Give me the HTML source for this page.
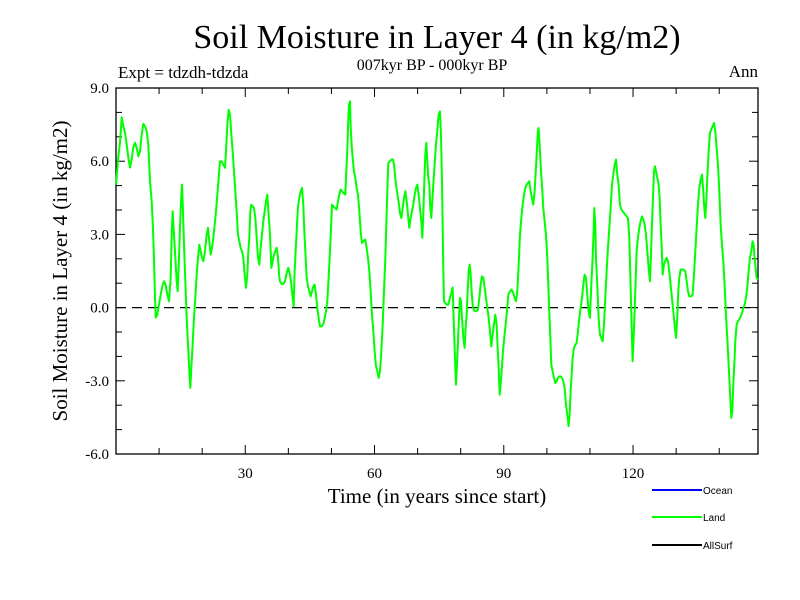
<!DOCTYPE html>
<html><head><meta charset="utf-8">
<style>
html,body{margin:0;padding:0;background:#fff;}
svg{display:block;font-family:"Liberation Serif",serif;}
</style></head>
<body>
<svg id="chart" width="800" height="600" viewBox="0 0 800 600">
<rect width="800" height="600" fill="#fff"/>
<text x="437" y="48" font-size="34" text-anchor="middle">Soil Moisture in Layer 4 (in kg/m2)</text>
<text x="118" y="78" font-size="17">Expt = tdzdh-tdzda</text>
<text x="432" y="70" font-size="16" text-anchor="middle">007kyr BP - 000kyr BP</text>
<text x="758" y="77" font-size="17" text-anchor="end">Ann</text>
<text x="437" y="503" font-size="21" text-anchor="middle">Time (in years since start)</text>
<text transform="translate(67,271) rotate(-90)" font-size="21" text-anchor="middle">Soil Moisture in Layer 4 (in kg/m2)</text>
<g id="axes"></g>
<g id="series"></g>
<g font-family="Liberation Sans, sans-serif" font-size="10">
<line x1="652" y1="490" x2="702" y2="490" stroke="#0000ff" stroke-width="2"/>
<text x="703" y="494">Ocean</text>
<line x1="652" y1="517" x2="702" y2="517" stroke="#00ff00" stroke-width="2"/>
<text x="703" y="521">Land</text>
<line x1="652" y1="545" x2="702" y2="545" stroke="#000" stroke-width="2"/>
<text x="703" y="549">AllSurf</text>
</g>
</svg>
<script>
const years = [0,0.54,0.93,1.32,1.70,2.09,2.48,2.86,3.25,3.64,4.02,4.41,4.80,5.18,5.57,5.96,6.34,6.73,7.12,7.50,7.89,8.28,8.51,8.74,8.97,9.21,9.59,9.98,10.37,10.75,11.14,11.53,11.91,12.30,12.69,12.92,13.15,13.31,13.69,14.08,14.31,14.62,14.85,15.09,15.32,15.55,15.78,16.09,16.40,16.79,17.02,17.25,17.48,17.79,18.10,18.41,18.72,19.03,19.34,19.65,19.96,20.27,20.65,21.04,21.35,21.66,21.97,22.28,22.59,22.90,23.21,23.52,23.83,24.14,24.52,24.91,25.30,25.53,25.84,26.15,26.46,26.77,27.08,27.38,27.69,28.00,28.31,28.62,28.93,29.24,29.55,29.86,30.17,30.48,30.71,30.94,31.17,31.41,31.72,32.03,32.34,32.65,32.95,33.26,33.57,33.88,34.19,34.50,34.81,35.12,35.43,35.74,36.05,36.36,36.67,36.98,37.29,37.60,37.91,
38.06,38.45,38.83,39.22,39.61,39.99,40.38,40.69,41.00,41.23,41.46,41.77,42.01,42.24,42.55,42.86,43.17,43.47,43.71,43.94,44.25,44.56,44.87,45.18,45.49,45.80,46.11,46.41,46.72,47.03,47.34,47.73,48.12,48.43,48.74,49.04,49.35,49.66,49.90,50.13,50.44,50.82,51.21,51.52,51.83,52.14,52.45,52.76,53.22,53.45,53.69,53.84,54.07,54.31,54.46,54.69,54.92,55.23,55.54,55.85,56.16,56.47,56.78,57.09,57.40,57.86,58.17,58.48,58.79,59.10,59.41,59.72,60.03,60.34,60.65,60.96,61.27,61.58,61.89,62.20,62.51,62.74,62.97,63.20,63.59,63.97,64.28,64.52,64.75,64.98,65.21,65.44,65.68,65.91,66.22,66.53,66.84,67.15,67.46,67.77,68.07,68.38,68.69,69.00,69.31,69.62,69.93,70.24,70.55,70.86,71.09,71.32,71.56,71.79,72.02,72.25,72.48,72.72,72.95,73.18,73.41,73.64,73.95,74.26,74.57,74.88,75.19,
75.42,75.66,75.81,75.96,76.12,76.43,76.74,77.13,77.51,77.82,78.13,78.44,78.67,78.90,79.14,79.37,79.60,79.83,80.07,80.30,80.61,80.92,81.15,81.38,81.61,81.85,82.08,82.31,82.54,82.77,83.08,83.55,84.01,84.32,84.63,84.94,85.25,85.56,85.87,86.18,86.49,86.80,87.10,87.41,87.72,88.03,88.34,88.57,88.81,89.04,89.27,89.50,89.81,90.12,90.43,90.74,91.05,91.44,91.82,92.21,92.52,92.83,93.14,93.45,93.76,94.07,94.38,94.69,95.00,95.30,95.61,95.92,96.23,96.54,96.85,97.16,97.47,97.70,97.93,98.09,98.32,98.55,98.86,99.17,99.48,99.79,100.10,100.33,100.56,100.80,101.03,101.34,101.65,101.96,102.27,102.58,102.89,103.19,103.50,103.81,104.12,104.43,104.74,105.05,105.28,105.52,105.75,105.98,106.29,106.60,106.91,107.22,107.53,107.84,108.15,108.46,108.77,109.07,109.38,109.69,110.00,110.31,110.62,110.85,111.01,111.24,111.39,111.70,112.01,112.32,
112.63,112.94,113.25,113.56,113.87,114.18,114.49,114.80,115.11,115.42,115.73,116.04,116.35,116.65,116.96,117.27,117.58,117.89,118.20,118.51,118.82,119.13,119.36,119.59,119.75,119.90,120.14,120.37,120.60,120.83,121.14,121.45,121.76,122.07,122.38,122.69,123.00,123.31,123.62,123.93,124.16,124.39,124.62,124.86,125.09,125.32,125.63,125.94,126.17,126.40,126.63,126.87,127.17,127.48,127.79,128.10,128.41,128.72,129.03,129.34,129.65,129.96,130.27,130.50,130.73,131.04,131.66,132.13,132.44,132.75,133.05,133.52,133.83,134.14,134.45,134.76,135.07,135.38,135.69,136.00,136.30,136.54,136.77,137.00,137.23,137.54,137.85,138.16,138.47,138.78,139.09,139.40,139.71,140.02,140.33,140.64,140.95,141.25,141.56,141.87,142.11,142.34,142.57,142.80,143.03,143.27,143.50,143.73,144.04,144.35,144.66,144.97,145.28,145.59,145.90,146.20,146.51,146.82,147.13,147.44,147.75,147.98,148.21,148.44,148.68,149.0];
const landValues = [5.04,6.2,6.76,7.8,7.43,7.17,6.68,6.15,5.74,6.07,6.56,6.76,6.56,6.2,6.4,7.09,7.53,7.43,7.23,6.68,5.18,4.36,3.54,2.45,0.94,-0.41,-0.29,0.12,0.53,0.87,1.08,0.94,0.53,0.26,1.22,2.99,3.95,3.4,2.31,1.08,0.67,2.05,3.28,4.36,5.04,3.95,2.58,1.08,-0.41,-1.79,-2.61,-3.29,-2.47,-1.52,-0.41,0.4,1.35,2.04,2.58,2.31,2.04,1.9,2.31,2.99,3.27,2.72,2.17,2.45,2.86,3.4,3.95,4.63,5.32,6.0,6.0,5.86,5.73,6.4,7.5,8.11,7.91,7.09,6.4,5.59,4.77,3.95,2.99,2.72,2.45,2.31,2.04,1.35,0.81,1.35,2.31,2.86,3.95,4.22,4.15,4.08,3.67,2.86,2.04,1.76,2.45,2.99,3.54,3.95,4.36,4.63,3.81,2.99,1.63,1.9,2.17,2.31,2.45,2.04,1.22,
1.08,0.97,0.97,1.08,1.42,1.63,1.35,0.94,0.4,0.05,1.49,2.58,3.4,4.15,4.49,4.77,4.9,4.22,3.13,2.31,1.22,0.87,0.67,0.46,0.67,0.87,0.94,0.53,-0.01,-0.42,-0.77,-0.77,-0.67,-0.42,-0.15,0.26,1.22,2.31,3.27,4.22,4.15,4.08,4.02,4.36,4.63,4.84,4.77,4.7,4.63,5.59,6.48,7.36,8.32,8.45,7.43,6.68,6.14,5.59,5.32,4.9,4.63,3.95,3.13,2.65,2.72,2.79,2.45,2.04,1.49,0.67,-0.29,-0.97,-1.79,-2.4,-2.61,-2.88,-2.61,-1.79,-0.7,0.67,2.04,3.4,4.77,5.93,6.0,6.07,6.07,5.86,5.45,5.04,4.77,4.49,4.22,3.88,3.67,4.08,4.49,4.77,4.36,3.81,3.27,3.67,3.95,4.22,4.63,4.9,5.04,4.63,4.08,3.54,2.86,3.81,5.18,6.27,6.75,6.0,5.32,5.04,4.08,3.67,4.36,5.04,5.86,6.68,7.23,7.91,8.04,
7.09,5.18,3.4,1.63,0.26,0.19,0.12,0.12,0.4,0.6,0.83,-0.83,-2.06,-3.16,-2.34,-1.38,-0.42,0.4,0.26,-0.42,-1.24,-1.65,-0.83,-0.29,0.67,1.49,1.76,1.35,0.67,0.12,-0.12,-0.15,-0.08,0.4,0.94,1.28,1.22,0.81,0.4,-0.01,-0.42,-0.97,-1.59,-1.11,-0.7,-0.29,-0.7,-1.65,-2.47,-3.57,-3.16,-2.61,-1.79,-1.24,-0.7,-0.15,0.53,0.67,0.74,0.6,0.4,0.26,0.67,1.76,2.99,3.67,4.22,4.63,4.9,5.04,5.11,5.18,4.77,4.49,4.22,4.77,5.73,6.54,7.23,7.36,6.68,5.86,5.04,4.08,3.54,2.99,2.04,0.94,-0.15,-1.24,-2.34,-2.61,-2.88,-3.09,-3.02,-2.88,-2.82,-2.82,-2.88,-3.02,-3.29,-3.98,-4.39,-4.86,-4.39,-3.43,-2.75,-2.06,-1.65,-1.52,-1.45,-0.97,-0.42,-0.01,0.4,0.94,1.35,1.22,0.53,-0.15,-0.42,0.94,2.04,3.13,4.08,3.4,2.04,0.94,-0.42,-1.11,
-1.24,-1.38,-0.7,0.4,1.49,2.45,3.27,4.08,5.04,5.45,5.86,6.07,5.45,5.04,4.22,4.02,3.95,3.88,3.81,3.74,3.67,2.86,1.35,-0.15,-1.24,-2.2,-1.24,-0.15,1.08,2.31,2.86,3.27,3.54,3.74,3.61,3.4,2.99,2.31,1.63,1.08,2.17,3.4,4.49,5.59,5.79,5.59,5.32,5.04,4.49,3.4,2.58,1.35,1.76,1.9,2.04,1.9,1.49,0.94,0.4,-0.15,-0.7,-1.24,-0.42,0.67,1.22,1.56,1.56,1.49,1.08,0.67,0.46,0.46,0.53,1.35,2.31,3.27,4.22,4.9,5.25,5.45,4.77,4.08,3.67,4.36,5.32,6.4,7.16,7.3,7.43,7.57,7.23,6.54,5.86,4.77,3.4,2.58,1.9,0.94,-0.29,-1.24,-2.06,-2.88,-3.7,-4.52,-4.25,-3.16,-2.34,-1.38,-0.7,-0.56,-0.49,-0.36,-0.22,-0.01,0.12,0.4,0.81,1.49,2.04,2.31,2.72,2.58,2.04,1.63,1.22,1.15];
const yTickLabels = ["-6.0","-3.0","0.0","3.0","6.0","9.0"];
const yTickValues = [-6,-3,0,3,6,9];
const xTickValues = [30,60,90,120];
const xTickLabels = ["30","60","90","120"];

const NS = "http://www.w3.org/2000/svg";
const L = 116, R = 758, T = 88, B = 454;
const xMin = 0, xMax = 149, yMin = -6, yMax = 9;
function xs(v){ return L + (v - xMin) / (xMax - xMin) * (R - L); }
function ys(v){ return B - (v - yMin) / (yMax - yMin) * (B - T); }
function mk(tag, attrs, parent){
  const e = document.createElementNS(NS, tag);
  for (const k in attrs) e.setAttribute(k, attrs[k]);
  parent.appendChild(e);
  return e;
}
const axes = document.getElementById('axes');
const series = document.getElementById('series');

const zl = mk('line', {x1:L, x2:R, y1:ys(0), y2:ys(0), stroke:'#000', 'stroke-width':1.3, 'stroke-dasharray':'10,6'}, axes);



for (let v = yMin; v <= yMax; v += 1) {
  const major = (v % 3 === 0);
  const len = major ? 9 : 6;
  const y = ys(v);
  const t1 = mk('line', {x1:L, x2:L+len, y1:y, y2:y, stroke:'#000', 'stroke-width':1}, axes);
  
  
  const t2 = mk('line', {x1:R, x2:R-len, y1:y, y2:y, stroke:'#000', 'stroke-width':1}, axes);
  
  
}
yTickValues.forEach((v, i) => {
  const t = mk('text', {x:L-7, y:ys(v)+5, 'font-size':15, 'text-anchor':'end'}, axes);
  t.textContent = yTickLabels[i];
  
  
});
for (let v = 10; v < xMax; v += 10) {
  const major = (v % 30 === 0);
  const len = major ? 9 : 6;
  const x = xs(v);
  const t1 = mk('line', {x1:x, x2:x, y1:B, y2:B-len, stroke:'#000', 'stroke-width':1}, axes);
  
  
  const t2 = mk('line', {x1:x, x2:x, y1:T, y2:T+len, stroke:'#000', 'stroke-width':1}, axes);
  
  
}
xTickValues.forEach((v, i) => {
  const t = mk('text', {x:xs(v), y:B+24, 'font-size':15, 'text-anchor':'middle'}, axes);
  t.textContent = xTickLabels[i];
  
  
});
const frame = mk('rect', {x:L, y:T, width:R-L, height:B-T, fill:'none', stroke:'#000', 'stroke-width':1.3}, axes);



let d = '';
years.forEach((t, i) => { d += (i ? 'L' : 'M') + xs(t).toFixed(2) + ',' + ys(landValues[i]).toFixed(2); });
const line = mk('path', {d:d, fill:'none', stroke:'#00ff00', 'stroke-width':2, 'stroke-linejoin':'round'}, series);


</script>
</body></html>
